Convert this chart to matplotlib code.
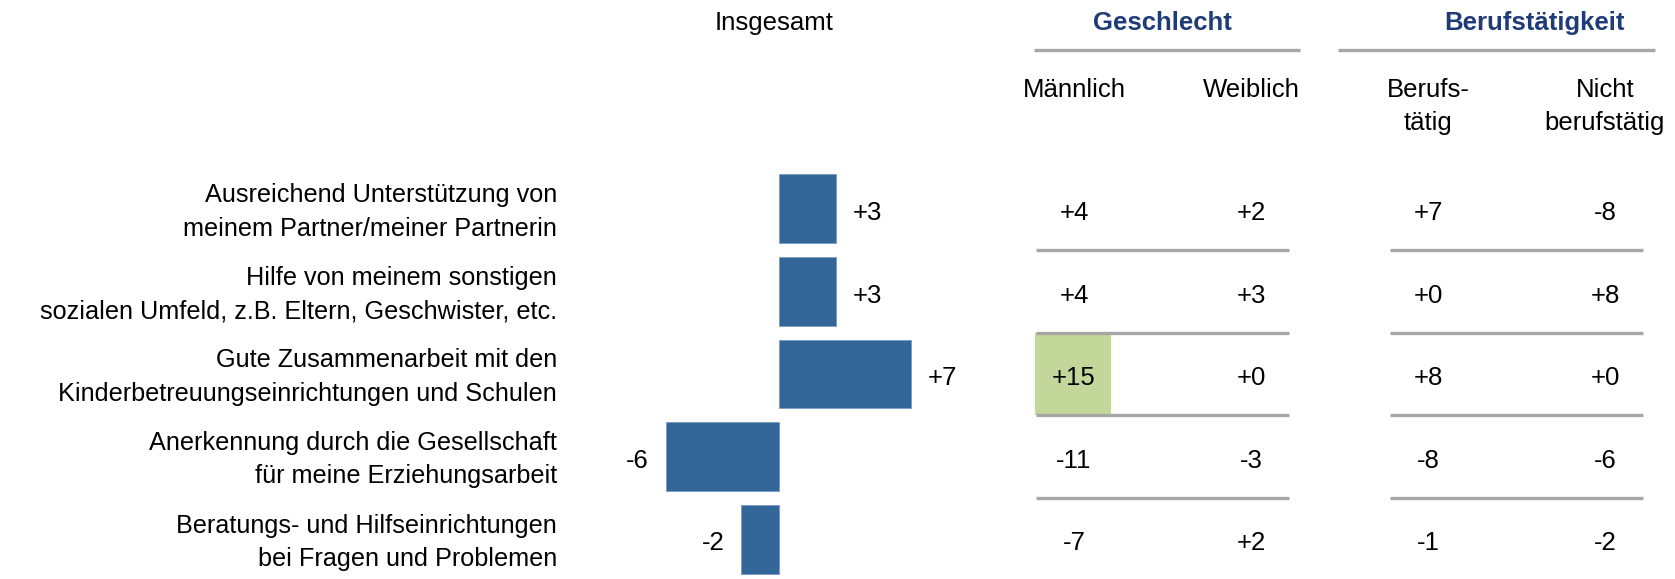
import numpy as np
import matplotlib
matplotlib.use('Agg')
import matplotlib.pyplot as plt
from matplotlib.patches import Rectangle

plt.rcParams['font.family'] = ['Liberation Sans', 'DejaVu Sans']

# Daten
items = [
    'Ausreichend Unterstützung von\nmeinem Partner/meiner Partnerin',
    'Hilfe von meinem sonstigen\nsozialen Umfeld, z.B. Eltern, Geschwister, etc.',
    'Gute Zusammenarbeit mit den\nKinderbetreuungseinrichtungen und Schulen',
    'Anerkennung durch die Gesellschaft\nfür meine Erziehungsarbeit',
    'Beratungs- und Hilfseinrichtungen\nbei Fragen und Problemen',
]
insgesamt = [3, 3, 7, -6, -2]
maennlich = [4, 4, 15, -11, -7]
weiblich = [2, 3, 0, -3, 2]
berufstaetig = [7, 0, 8, -8, -1]
nicht_berufstaetig = [-8, 8, 0, -6, -2]

groups = ['Geschlecht', 'Berufstätigkeit']
columns = ['Männlich', 'Weiblich', 'Berufs-\ntätig', 'Nicht\nberufstätig']
highlight = [(2, 0)]  # (Zeile, Spalte) grün hinterlegt

# Layout (Pixel)
W, H = 1675, 579
ROW0, PITCH = 208.8, 82.6
ZERO, UNIT = 779, 18.9
COL0, COLW = 1074, 177.0
FS = 18.5
BASE = 11.3 / PITCH  # Grundlinie unter Zeilenmitte
BLUE = '#336699'
NAVY = '#1F3C78'
GREY = '#A6A6A6'
GREEN = '#C4D79B'


def row_of(px):
    return (px - ROW0) / PITCH


ylim = (row_of(H), row_of(0))
rows = np.arange(len(items))

fig = plt.figure(figsize=(W / 100, H / 100), dpi=100)

# Balken "Insgesamt"
ax = fig.add_axes([600 / W, 0, 400 / W, 1])
ax.set_xlim(-(ZERO - 600) / UNIT, (1000 - ZERO) / UNIT)
ax.set_ylim(*ylim)
ax.barh(rows, insgesamt, height=0.835, color=BLUE, edgecolor='#7a9cc4', linewidth=0.6)
for r, v in zip(rows, insgesamt):
    ax.annotate(f'{v:+d}', (v, r + BASE), xytext=(12.2 if v > 0 else -12.2, 0),
                textcoords='offset points', ha='left' if v > 0 else 'right',
                va='baseline', fontsize=FS)

# Beschriftung links neben den Balken
for r, label in zip(rows, items):
    ax.annotate(label, xy=(0, r), xycoords=('axes fraction', 'data'),
                xytext=(-31, -2.2), textcoords='offset points',
                ha='right', va='center', multialignment='right',
                fontsize=18.2, linespacing=1.5)
ax.set_xticks([])
ax.set_yticks([])
for s in ax.spines.values():
    s.set_visible(False)
ax.text(-0.26, row_of(30), 'Insgesamt', ha='center', va='baseline', fontsize=FS)

# Tabelle rechts
tx = fig.add_axes([1000 / W, 0, 675 / W, 1])
tx.set_xlim((1000 - COL0) / COLW, (W - COL0) / COLW)
tx.set_ylim(*ylim)
tx.axis('off')

for r, c in highlight:
    tx.add_patch(Rectangle((c - 0.22, r - 0.5), 0.43, 1, color=GREEN, lw=0, zorder=1))

table = [maennlich, weiblich, berufstaetig, nicht_berufstaetig]
for c, col in enumerate(table):
    for r, v in enumerate(col):
        tx.text(c, r + BASE, f'{v:+d}', ha='center', va='baseline', fontsize=FS, zorder=3)
    tx.text(c, row_of(78), columns[c], ha='center', va='top',
            multialignment='center', fontsize=FS, linespacing=1.45)

header_spans = [(-0.225, 1.275), (1.49, 3.28)]
header_x = [0.5, 2.6]
for g, name in enumerate(groups):
    c0, c1 = 2 * g, 2 * g + 1
    tx.hlines(rows[:-1] + 0.5, c0 - 0.215, c1 + 0.215, color=GREY, lw=2.4, zorder=2)
    tx.hlines(row_of(50), *header_spans[g], color=GREY, lw=2.4)
    tx.text(header_x[g], row_of(30), name, ha='center', va='baseline',
            fontsize=FS, fontweight='bold', color=NAVY)

fig.savefig('out.png', dpi=100)
